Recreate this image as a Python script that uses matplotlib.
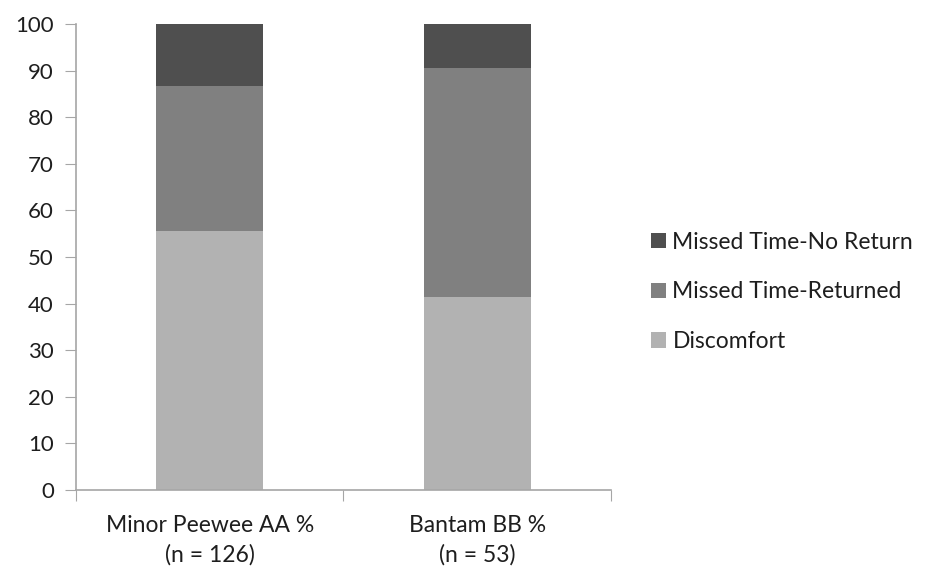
import matplotlib
matplotlib.use("Agg")
import matplotlib.pyplot as plt
from matplotlib.patches import Patch

categories = ["Minor Peewee AA %\n(n = 126)", "Bantam BB %\n(n = 53)"]
series_names = ["Discomfort", "Missed Time-Returned", "Missed Time-No Return"]
discomfort = [55.6, 41.5]
missed_returned = [31.0, 49.1]
missed_no_return = [13.4, 9.4]
yticks = [0, 10, 20, 30, 40, 50, 60, 70, 80, 90, 100]

colors = ["#b2b2b2", "#808080", "#4f4f4f"]
axis_color = "#a6a6a6"
text_color = "#1e1e1e"

plt.rcParams["font.family"] = ["Lato", "DejaVu Sans"]

fig = plt.figure(figsize=(9.28, 5.69), dpi=100)
ax = fig.add_axes([76 / 928, 1 - 490 / 569, 535 / 928, 466 / 569])

x = list(range(len(categories)))
bottom = [0.0] * len(x)
for vals, col in zip([discomfort, missed_returned, missed_no_return], colors):
    ax.bar(x, vals, width=0.4, bottom=bottom, color=col, edgecolor="none", zorder=2)
    bottom = [b + v for b, v in zip(bottom, vals)]

ax.set_xlim(-0.5, len(x) - 0.5)
ax.set_ylim(0, 100)
ax.set_yticks(yticks)
ax.set_yticklabels([str(t) for t in yticks], fontsize=16, color=text_color)

# category separators as tick marks, labels centred under the bars
ax.set_xticks([i - 0.5 for i in range(len(x) + 1)])
ax.set_xticklabels([])
ax.set_xticks(x, minor=True)
ax.set_xticklabels(categories, minor=True, fontsize=16.5, color=text_color, linespacing=1.45)
ax.tick_params(axis="x", which="minor", length=0, pad=18)
ax.tick_params(axis="x", which="major", length=8, color=axis_color, direction="out")
ax.tick_params(axis="y", length=8, color=axis_color, direction="out", pad=8)

for side in ["top", "right"]:
    ax.spines[side].set_visible(False)
for side in ["left", "bottom"]:
    ax.spines[side].set_color(axis_color)
    ax.spines[side].set_linewidth(1.2)

handles = [Patch(facecolor=c, edgecolor="none") for c in colors[::-1]]
fig.legend(handles, series_names[::-1], loc="center left",
           bbox_to_anchor=(630 / 928, 1 - 292 / 569), frameon=False,
           fontsize=16.5, labelspacing=1.25, handlelength=0.65, handleheight=0.65,
           handletextpad=0.3, labelcolor=text_color)

fig.savefig("out.png", dpi=100)
